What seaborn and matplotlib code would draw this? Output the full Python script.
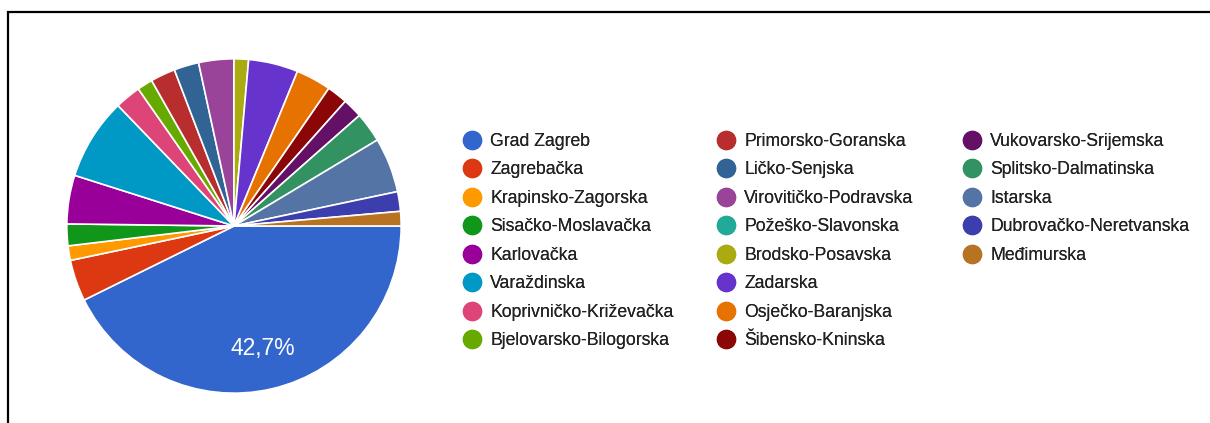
import numpy as np
import pandas as pd
import matplotlib
matplotlib.use("Agg")
import matplotlib.pyplot as plt
from matplotlib.lines import Line2D
from matplotlib.patches import Rectangle
import seaborn as sns

sns.set_theme(style="white")
plt.rcParams['font.family'] = ['Liberation Sans', 'DejaVu Sans']

# counties and their share (%)
counties = ['Grad Zagreb', 'Zagrebačka', 'Krapinsko-Zagorska', 'Sisačko-Moslavačka',
            'Karlovačka', 'Varaždinska', 'Koprivničko-Križevačka', 'Bjelovarsko-Bilogorska',
            'Primorsko-Goranska', 'Ličko-Senjska', 'Virovitičko-Podravska', 'Požeško-Slavonska',
            'Brodsko-Posavska', 'Zadarska', 'Osječko-Baranjska', 'Šibensko-Kninska',
            'Vukovarsko-Srijemska', 'Splitsko-Dalmatinska', 'Istarska',
            'Dubrovačko-Neretvanska', 'Međimurska']
shares = [42.7, 4.0, 1.4, 2.1, 4.7, 7.9, 2.5, 1.5, 2.4, 2.4, 3.4, 0.0,
          1.4, 4.8, 3.4, 2.0, 1.9, 2.9, 5.3, 1.9, 1.4]
colors = ['#3366cc', '#dc3912', '#ff9900', '#109618', '#990099', '#0099c6', '#dd4477',
          '#66aa00', '#b82e2e', '#316395', '#994499', '#22aa99', '#aaaa11', '#6633cc',
          '#e67300', '#8b0707', '#651067', '#329262', '#5574a6', '#3b3eac', '#b77322']

df = pd.DataFrame({'county': counties, 'share': shares, 'color': colors})

W, H = 1210, 423
fig = plt.figure(figsize=(W / 100, H / 100), dpi=100)

# pie: centre (234, 226) px, radius 168 px
cx, cy, r = 234, 226, 168
ax = fig.add_axes([(cx - r) / W, (H - cy - r) / H, 2 * r / W, 2 * r / H])


def fmt(p):
    return f'{p:.1f}%'.replace('.', ',') if p > 20 else ''


wedges, _, autotexts = ax.pie(df['share'], colors=df['color'], startangle=0, counterclock=False,
                              radius=1, autopct=fmt, pctdistance=0.75,
                              wedgeprops=dict(edgecolor='white', linewidth=1.2))
for t in autotexts:
    t.set_color('white')
    t.set_fontsize(16.5)
ax.set_xlim(-1.005, 1.005)
ax.set_ylim(-1.005, 1.005)
ax.set_aspect('equal')
ax.axis('off')

# legend in three columns (8, 8, 5)
handles = [Line2D([], [], linestyle='', marker='o', markersize=13,
                  markerfacecolor=c, markeredgecolor=c) for c in df['color']]
groups = [(0, 8, 463), (8, 16, 717), (16, 21, 963)]
for start, stop, x0 in groups:
    leg = fig.legend(handles[start:stop], df['county'][start:stop], loc='upper left',
                     bbox_to_anchor=(x0 / W, 1 - 133 / H), frameon=False,
                     fontsize=12.7, labelspacing=0.65, handlelength=1.0,
                     handletextpad=0.55, borderpad=0, borderaxespad=0,
                     labelcolor='#222222')
    fig.add_artist(leg)

# black frame on the top and left
fig.add_artist(Rectangle((7.5 / W, -0.1), 1.2, (H - 12 + 0.1 * H) / H,
                         transform=fig.transFigure, fill=False,
                         edgecolor='black', linewidth=1.6))

fig.savefig('out.png', dpi=100)
